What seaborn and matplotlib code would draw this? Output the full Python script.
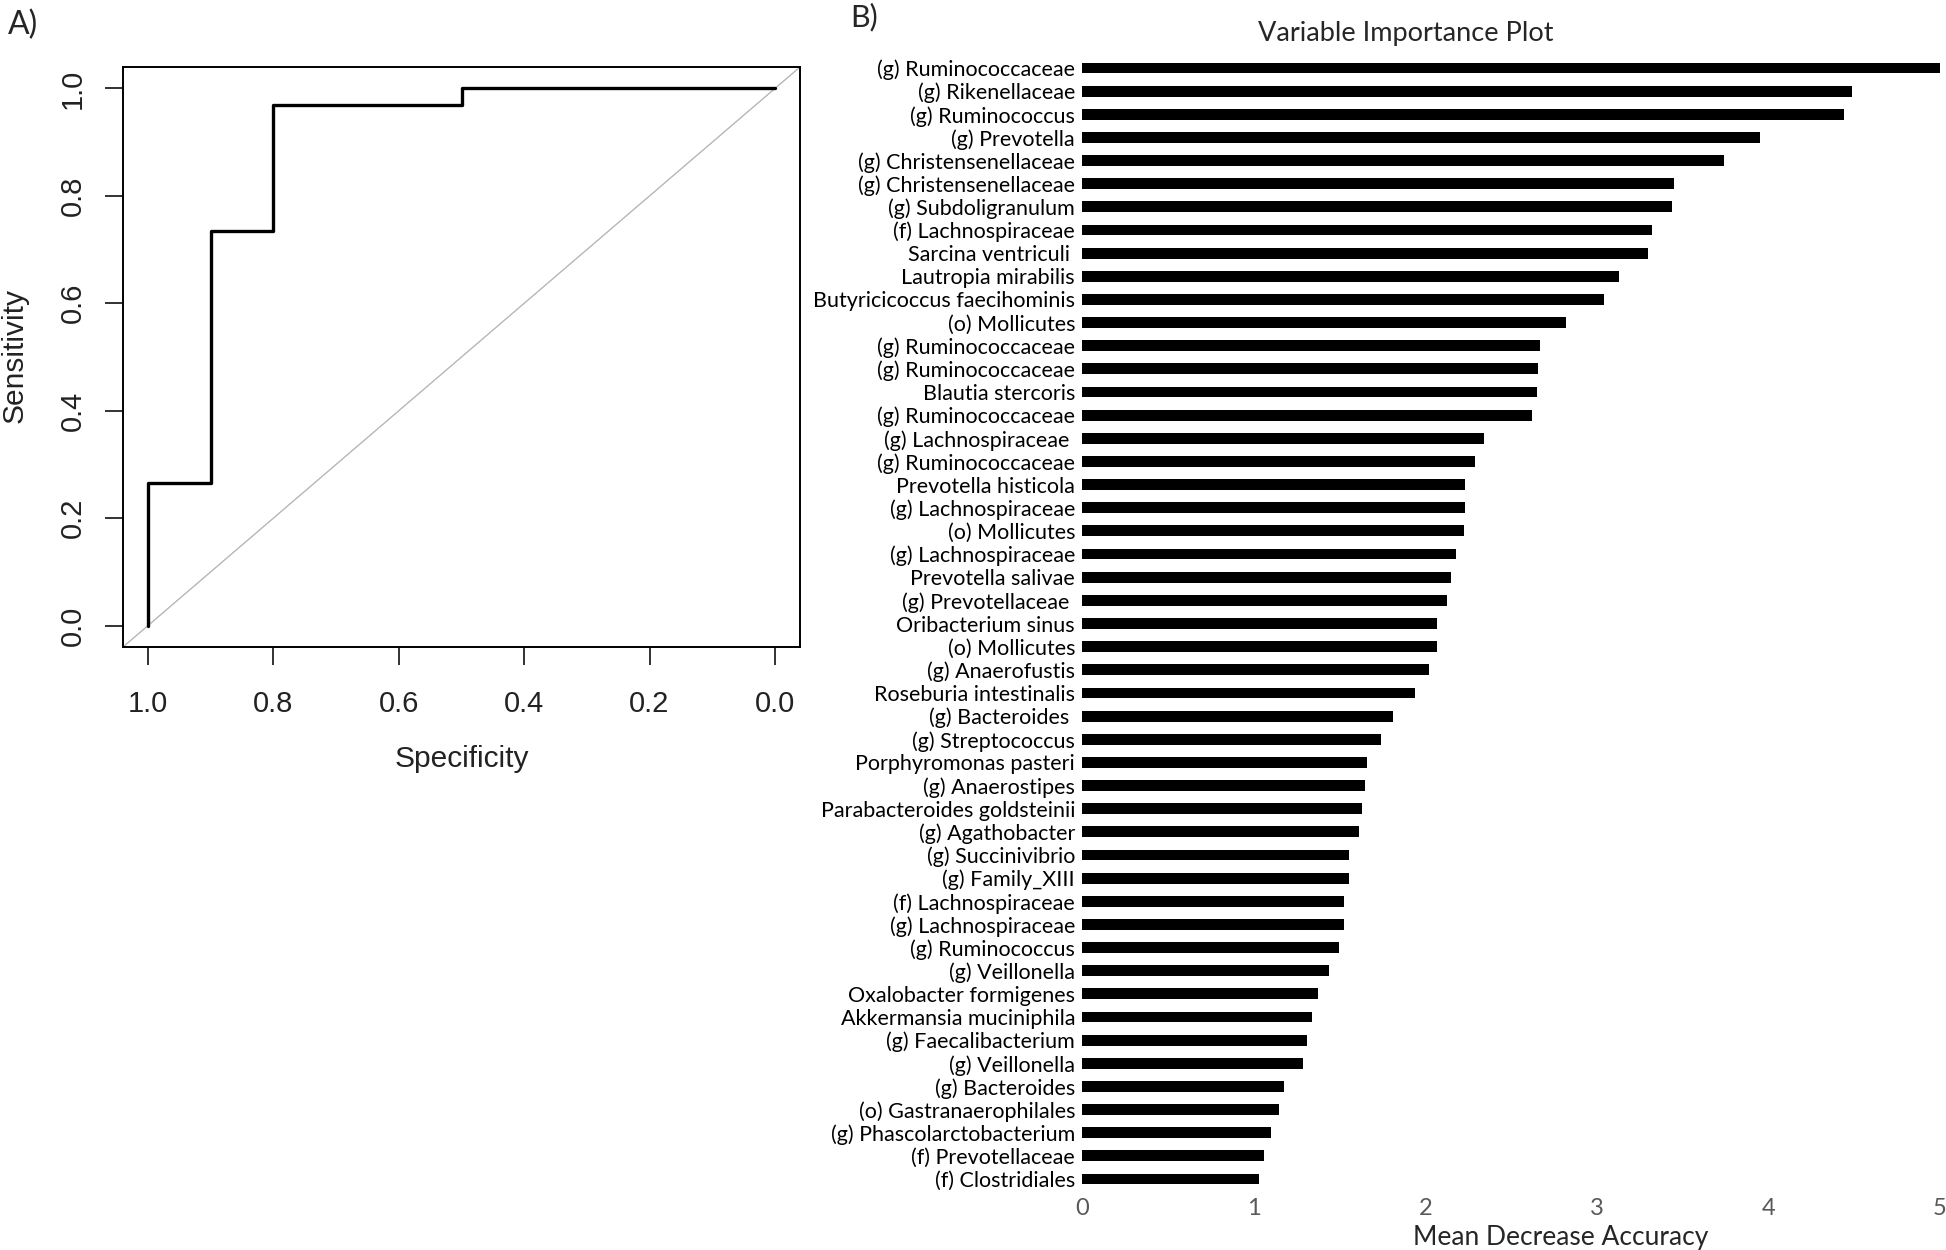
import matplotlib
matplotlib.use("Agg")
import matplotlib.pyplot as plt
import seaborn as sns

# ROC curve (panel A)
specificity = [1.0, 1.0, 0.9, 0.9, 0.8, 0.8, 0.5, 0.5, 0.0]
sensitivity = [0.0, 0.265, 0.265, 0.735, 0.735, 0.97, 0.97, 1.0, 1.0]
roc_ticks = [0.0, 0.2, 0.4, 0.6, 0.8, 1.0]

# variable importance (panel B)
taxa = [
    "(g) Ruminococcaceae", "(g) Rikenellaceae", "(g) Ruminococcus", "(g) Prevotella",
    "(g) Christensenellaceae", "(g) Christensenellaceae", "(g) Subdoligranulum",
    "(f) Lachnospiraceae", "Sarcina ventriculi ", "Lautropia mirabilis",
    "Butyricicoccus faecihominis", "(o) Mollicutes", "(g) Ruminococcaceae",
    "(g) Ruminococcaceae", "Blautia stercoris", "(g) Ruminococcaceae",
    "(g) Lachnospiraceae ", "(g) Ruminococcaceae", "Prevotella histicola",
    "(g) Lachnospiraceae", "(o) Mollicutes", "(g) Lachnospiraceae",
    "Prevotella salivae", "(g) Prevotellaceae ", "Oribacterium sinus",
    "(o) Mollicutes", "(g) Anaerofustis", "Roseburia intestinalis",
    "(g) Bacteroides ", "(g) Streptococcus", "Porphyromonas pasteri",
    "(g) Anaerostipes", "Parabacteroides goldsteinii", "(g) Agathobacter",
    "(g) Succinivibrio", "(g) Family_XIII", "(f) Lachnospiraceae",
    "(g) Lachnospiraceae", "(g) Ruminococcus", "(g) Veillonella",
    "Oxalobacter formigenes", "Akkermansia muciniphila", "(g) Faecalibacterium",
    "(g) Veillonella", "(g) Bacteroides", "(o) Gastranaerophilales",
    "(g) Phascolarctobacterium", "(f) Prevotellaceae", "(f) Clostridiales",
]
importance = [
    5.00, 4.49, 4.44, 3.95, 3.74, 3.45, 3.44, 3.32, 3.30, 3.13,
    3.04, 2.82, 2.67, 2.66, 2.65, 2.625, 2.34, 2.29, 2.23, 2.23,
    2.225, 2.18, 2.15, 2.125, 2.07, 2.07, 2.02, 1.94, 1.81, 1.74,
    1.66, 1.65, 1.63, 1.617, 1.554, 1.554, 1.529, 1.529, 1.50, 1.44,
    1.375, 1.34, 1.31, 1.29, 1.18, 1.146, 1.10, 1.06, 1.03,
]
imp_ticks = [0, 1, 2, 3, 4, 5]

sns.set_style("white")
plt.rcParams["font.family"] = ["Lato", "DejaVu Sans"]

W, H = 1946, 1250
fig = plt.figure(figsize=(W / 100, H / 100), dpi=100)

# ---- panel A ----
axA = fig.add_axes([123 / W, 1 - 647 / H, 677 / W, 580 / H])
sns.lineplot(x=specificity, y=sensitivity, sort=False, estimator=None,
             color="black", linewidth=2.4, ax=axA)
axA.axline((1, 0), (0, 1), color="#b0b0b0", linewidth=0.9, zorder=1)
axA.set_xlim(1.04, -0.04)
axA.set_ylim(-0.04, 1.04)
axA.set_xticks(roc_ticks)
axA.set_yticks(roc_ticks)
axA.set_xticklabels([f"{t:.1f}" for t in roc_ticks], family="Liberation Sans")
axA.set_yticklabels([f"{t:.1f}" for t in roc_ticks], family="Liberation Sans",
                    rotation=90, va="center")
axA.tick_params(axis="both", direction="out", length=13, width=1.3,
                labelsize=21, colors="#222222", left=True, bottom=True)
axA.tick_params(axis="x", pad=18)
axA.tick_params(axis="y", pad=13)
for s in axA.spines.values():
    s.set_visible(True)
    s.set_color("black")
    s.set_linewidth(1.4)
fig.text(15 / W, 1 - 356 / H, "Sensitivity", rotation=90, ha="center", va="center",
         fontsize=21.5, color="#222222", family="Liberation Sans")
fig.text(462 / W, 1 - 759 / H, "Specificity", ha="center", va="center",
         fontsize=21.5, color="#222222", family="Liberation Sans")
fig.text(8 / W, 1 - 25 / H, "A)", ha="left", va="center", fontsize=23)

# ---- panel B ----
axB = fig.add_axes([1082 / W, 1 - 1190.6 / H, 858 / W, 1134.2 / H])
sns.barplot(x=importance, y=list(range(len(taxa))), orient="h", color="black",
            width=0.47, linewidth=0, saturation=1, ax=axB)
axB.set_xlim(0, 5)
axB.set_ylim(len(taxa) - 0.5, -0.5)
axB.set_yticks(range(len(taxa)))
axB.set_yticklabels(taxa)
axB.set_xticks(imp_ticks)
axB.set_xticklabels([str(t) for t in imp_ticks])
axB.tick_params(axis="y", length=0, pad=5, labelsize=15.5, labelcolor="black")
axB.tick_params(axis="x", length=0, pad=5, labelsize=17, labelcolor="#595959")
axB.set_xlabel("")
axB.set_ylabel("")
sns.despine(ax=axB, left=True, bottom=True)
fig.text(1406 / W, 1 - 34 / H, "Variable Importance Plot", ha="center", va="center",
         fontsize=19.5)
fig.text(1561 / W, 1 - 1225 / H, "Mean Decrease Accuracy", ha="center", va="top",
         fontsize=19)
fig.text(850 / W, 1 - 17 / H, "B)", ha="left", va="center", fontsize=22)

fig.savefig("out.png", dpi=100)
